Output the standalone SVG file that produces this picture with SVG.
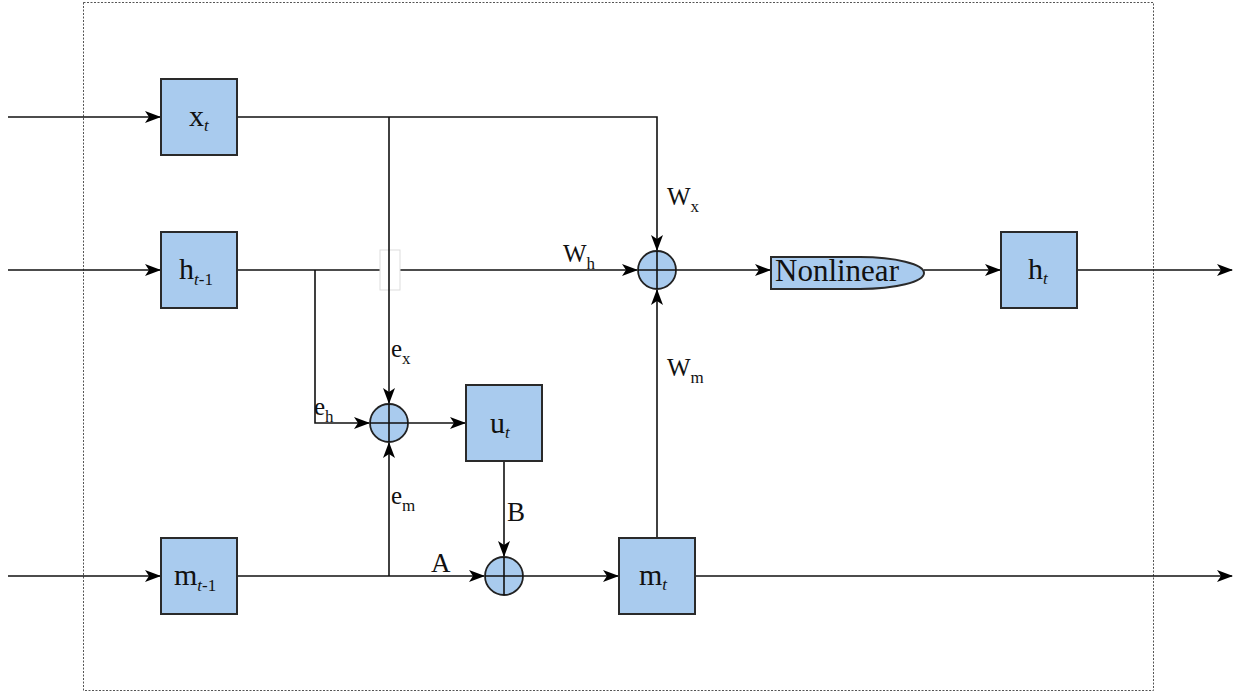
<svg xmlns="http://www.w3.org/2000/svg" width="1243" height="694" viewBox="0 0 1243 694">
<style>
.box{fill:#a9cbee;stroke:#2a2a2a;stroke-width:2}
.sum{fill:#a9cbee;stroke:#222;stroke-width:1.8}
.ln{fill:none;stroke:#111;stroke-width:1.6}
text{font-family:"Liberation Serif","Times New Roman",serif;font-size:25px;fill:#111}
.bl{font-size:30px}
.sb{font-size:17px}
.it{font-style:italic}
</style>
<defs>
<marker id="ah" markerWidth="16" markerHeight="12" refX="15" refY="6" orient="auto" markerUnits="userSpaceOnUse">
<path d="M0,0 L16,6 L0,12 L4,6 z" fill="#000"/>
</marker>
</defs>
<rect x="83.5" y="2.5" width="1070" height="688" fill="none" stroke="#555" stroke-width="1" stroke-dasharray="2,1.5"/>
<g id="connectors">
<line class="ln" x1="8" y1="117" x2="160" y2="117" marker-end="url(#ah)"/>
<line class="ln" x1="8" y1="270" x2="160" y2="270" marker-end="url(#ah)"/>
<line class="ln" x1="8" y1="576" x2="160" y2="576" marker-end="url(#ah)"/>
<polyline class="ln" points="237,117 657,117 657,250" marker-end="url(#ah)"/>
<line class="ln" x1="237" y1="270" x2="637" y2="270" marker-end="url(#ah)"/>
<polyline class="ln" points="315,270 315,423 369,423" marker-end="url(#ah)"/>
<rect x="380" y="250" width="20" height="40" fill="#fff" stroke="#ddd" stroke-width="1"/>
<line class="ln" x1="389" y1="117" x2="389" y2="403" marker-end="url(#ah)"/>
<line class="ln" x1="237" y1="576" x2="484" y2="576" marker-end="url(#ah)"/>
<line class="ln" x1="389" y1="576" x2="389" y2="443" marker-end="url(#ah)"/>
<line class="ln" x1="408" y1="423" x2="465" y2="423" marker-end="url(#ah)"/>
<line class="ln" x1="504" y1="461" x2="504" y2="556" marker-end="url(#ah)"/>
<line class="ln" x1="523" y1="576" x2="618" y2="576" marker-end="url(#ah)"/>
<line class="ln" x1="695" y1="576" x2="1232" y2="576" marker-end="url(#ah)"/>
<line class="ln" x1="657" y1="538" x2="657" y2="290" marker-end="url(#ah)"/>
<line class="ln" x1="676" y1="270" x2="770" y2="270" marker-end="url(#ah)"/>
<line class="ln" x1="924" y1="270" x2="1000" y2="270" marker-end="url(#ah)"/>
<line class="ln" x1="1077" y1="270" x2="1232" y2="270" marker-end="url(#ah)"/>
</g>
<g id="node-xt"><rect class="box" x="161" y="79" width="76" height="76"/><text class="bl" x="189" y="126">x<tspan class="sb it" dy="5">t</tspan></text></g>
<g id="node-ht1"><rect class="box" x="161" y="232" width="76" height="76"/><text class="bl" x="179" y="279">h<tspan class="sb" dy="6"><tspan class="it">t</tspan>-1</tspan></text></g>
<g id="node-mt1"><rect class="box" x="161" y="538" width="76" height="76"/><text class="bl" x="174" y="585">m<tspan class="sb" dy="6"><tspan class="it">t</tspan>-1</tspan></text></g>
<g id="node-ut"><rect class="box" x="466" y="385" width="76" height="76"/><text class="bl" x="490" y="433">u<tspan class="sb it" dy="5">t</tspan></text></g>
<g id="node-mt"><rect class="box" x="619" y="538" width="76" height="76"/><text class="bl" x="639" y="585">m<tspan class="sb it" dy="5">t</tspan></text></g>
<g id="node-ht"><rect class="box" x="1001" y="232" width="76" height="76"/><text class="bl" x="1028" y="279">h<tspan class="sb it" dy="5">t</tspan></text></g>
<g id="node-sum1"><circle class="sum" cx="389" cy="423" r="19"/><path class="ln" d="M370,423H408M389,404V442"/></g>
<g id="node-sum2"><circle class="sum" cx="504" cy="576" r="19"/><path class="ln" d="M485,576H523M504,557V595"/></g>
<g id="node-sum3"><circle class="sum" cx="657" cy="270" r="19"/><path class="ln" d="M638,270H676M657,251V289"/></g>
<g id="node-nonlinear"><path class="box" d="M771,257 L860,257 A64,16 0 0 1 860,289 L771,289 Z" stroke-width="1.5"/><text x="775" y="281" style="font-size:31px">Nonlinear</text></g>
<g id="labels">
<text x="667" y="205">W<tspan class="sb" dy="7">x</tspan></text>
<text x="563" y="262">W<tspan class="sb" dy="7">h</tspan></text>
<text x="667" y="376">W<tspan class="sb" dy="7">m</tspan></text>
<text x="391" y="357">e<tspan class="sb" dy="7">x</tspan></text>
<text x="314" y="415">e<tspan class="sb" dy="7">h</tspan></text>
<text x="391" y="504">e<tspan class="sb" dy="7">m</tspan></text>
<text x="507" y="521" style="font-size:27px">B</text>
<text x="431" y="572" style="font-size:27px">A</text>
</g>
</svg>
